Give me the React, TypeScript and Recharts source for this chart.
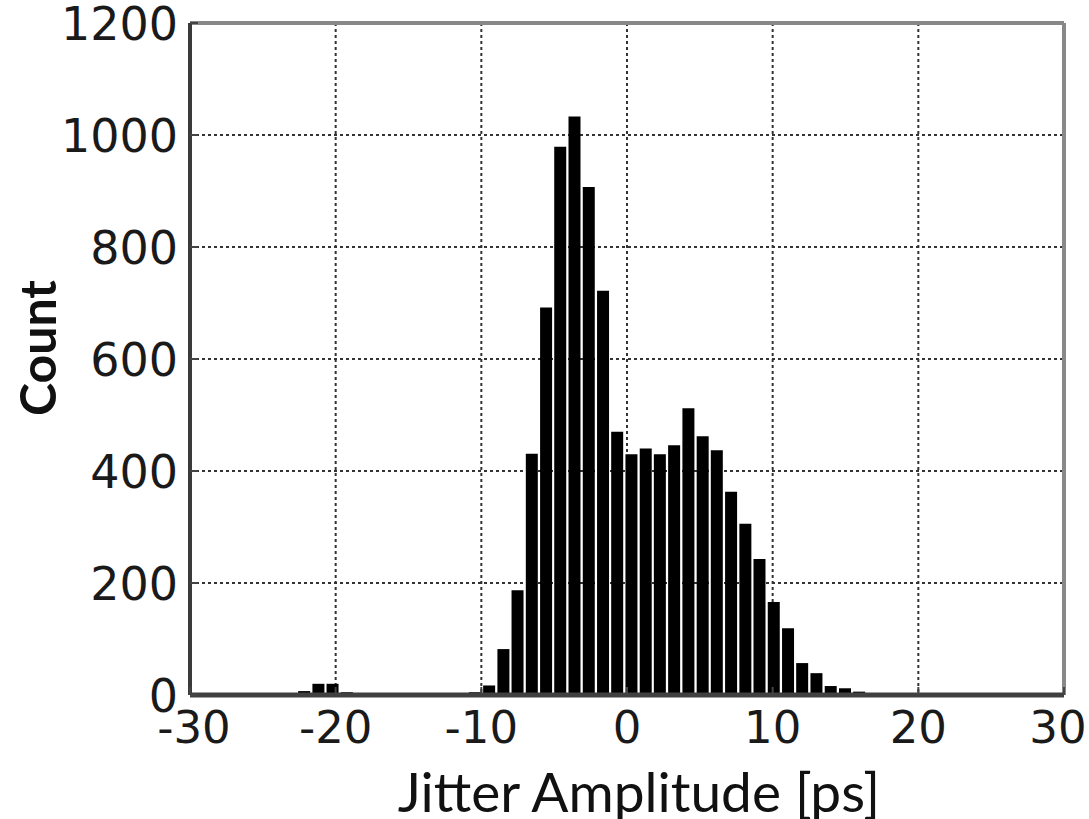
import React from 'react';
import {
  BarChart,
  Bar,
  XAxis,
  YAxis,
  CartesianGrid,
  ReferenceLine,
  Label
} from 'recharts';

// bin centres [ps]
const binCenters = [
  -22.16, -21.18, -20.21, -19.23, -18.25, -17.28, -16.3, -15.32, -14.35, -13.37,
  -12.39, -11.41, -10.44, -9.46, -8.48, -7.51, -6.53, -5.55, -4.58, -3.6,
  -2.62, -1.64, -0.67, 0.31, 1.29, 2.26, 3.24, 4.22, 5.2, 6.17,
  7.15, 8.13, 9.1, 10.08, 11.06, 12.03, 13.01, 13.99, 14.97, 15.94,
  16.92, 17.9, 18.87, 19.85
];

const counts = [
  7, 20, 20, 5, 2, 1, 2, 1, 1, 2,
  1, 2, 5, 17, 82, 187, 431, 692, 979, 1033,
  907, 722, 470, 430, 440, 430, 446, 512, 462, 437,
  363, 306, 243, 166, 119, 57, 39, 16, 12, 6,
  2, 1, 1, 1
];

const xTicks = [-30, -20, -10, 0, 10, 20, 30];
const yTicks = [0, 200, 400, 600, 800, 1000, 1200];

const data = binCenters.map((c, i) => ({ x: c, count: counts[i] }));

const tickFont = '"DejaVu Sans", Verdana, sans-serif';
const titleFont = 'Lato, "Open Sans", sans-serif';

const YTick = ({ x, y, payload }: any) => (
  <g>
    <line x1={x + 12} x2={x + 20} y1={y} y2={y} stroke="#444" strokeWidth={2} />
    <text
      x={x}
      y={y}
      dy="0.36em"
      textAnchor="end"
      fontFamily={tickFont}
      fontSize={46}
      fill="#1a1a1a"
    >
      {payload.value}
    </text>
  </g>
);

const XTick = ({ x, y, payload }: any) => {
  // the last label sits a little inside the frame, as in the original
  const nudge = payload.value === 30 ? -6 : payload.value === -30 ? 4 : 0;
  return (
    <g>
      <line x1={x} x2={x} y1={y - 14} y2={y - 22} stroke="#444" strokeWidth={2} />
      <text
        x={x + nudge}
        y={y}
        dy="0.76em"
        textAnchor="middle"
        fontFamily={tickFont}
        fontSize={45}
        fill="#1a1a1a"
      >
        {payload.value}
      </text>
    </g>
  );
};

const App = () => {
  return (
    <div style={{ position: 'absolute', left: 0, top: 0, background: '#fff' }}>
      <BarChart
        width={1089}
        height={819}
        data={data}
        margin={{ top: 23, right: 25, left: 0, bottom: 0 }}
      >
        <XAxis
          dataKey="x"
          type="number"
          domain={[-30, 30]}
          ticks={xTicks}
          interval={0}
          tickLine={false}
          tickSize={0}
          tickMargin={14}
          tick={<XTick />}
          height={124}
          axisLine={{ stroke: '#404040', strokeWidth: 5 }}
        >
          <Label
            content={({ viewBox }: any) => (
              <text
                x={viewBox.x + viewBox.width / 2 + 12}
                y={viewBox.y + 117}
                textAnchor="middle"
                fontFamily={titleFont}
                fontSize={55}
                fill="#111"
              >
                Jitter Amplitude [ps]
              </text>
            )}
          />
        </XAxis>
        <YAxis
          type="number"
          domain={[0, 1200]}
          ticks={yTicks}
          interval={0}
          tickLine={false}
          tickSize={0}
          tickMargin={12}
          tick={<YTick />}
          width={190}
          axisLine={{ stroke: '#3a3a3a', strokeWidth: 4 }}
        >
          <Label
            content={({ viewBox }: any) => {
              const cx = viewBox.x + 37;
              const cy = viewBox.y + viewBox.height / 2 - 11;
              return (
                <text
                  x={cx}
                  y={cy}
                  transform={`rotate(-90, ${cx}, ${cy})`}
                  textAnchor="middle"
                  dominantBaseline="central"
                  fontFamily={titleFont}
                  fontWeight={700}
                  fontSize={50}
                  fill="#111"
                >
                  Count
                </text>
              );
            }}
          />
        </YAxis>
        <Bar dataKey="count" fill="#000" barSize={12} isAnimationActive={false} />
        <CartesianGrid stroke="#333" strokeWidth={2} strokeDasharray="3 3" />
        <ReferenceLine y={1200} stroke="#888" strokeWidth={4} />
        <ReferenceLine x={30} stroke="#888" strokeWidth={4} />
      </BarChart>
    </div>
  );
};

export default App;
